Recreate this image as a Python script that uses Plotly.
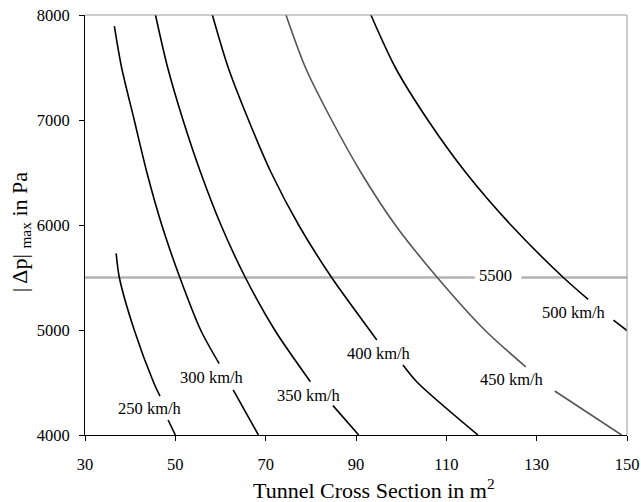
import plotly.graph_objects as go

# ---- data (x = cross section m^2, y = |dp|max Pa); None = gap at label
speed_labels = ["250 km/h", "300 km/h", "350 km/h", "400 km/h", "450 km/h", "500 km/h"]

x_250 = [36.9, 37.6, 40.9, 45.2, 46.6, None, 48.4, 50.0]
y_250 = [5730, 5500, 5000, 4500, 4371, None, 4143, 4000]

x_300 = [36.5, 38.1, 40.9, 43.7, 47.0, 51.0, 55.6, 59.7, None, 62.8, 68.4]
y_300 = [7895, 7500, 7000, 6500, 6000, 5500, 5000, 4680, None, 4430, 4000]

x_350 = [45.6, 48.3, 51.7, 55.6, 60.1, 65.5, 72.0, 79.9, None, 84.9, 90.6]
y_350 = [8000, 7500, 7000, 6500, 6000, 5500, 5000, 4508, None, 4280, 4000]

x_400 = [58.2, 61.7, 66.2, 71.2, 77.3, 84.6, 93.0, 94.6, None, 100.4, 103.6, 117.0]
y_400 = [8000, 7500, 7000, 6500, 6000, 5500, 5000, 4905, None, 4667, 4500, 4000]

x_450 = [74.5, 78.8, 84.6, 91.1, 98.7, 108.0, 118.5, 127.6, None, 134.0, 148.8]
y_450 = [8000, 7500, 7000, 6500, 6000, 5500, 5000, 4648, None, 4419, 4000]

x_500 = [93.3, 98.7, 105.9, 114.3, 124.3, 135.9, 141.4, None, 147.0, 150.0]
y_500 = [8000, 7500, 7000, 6500, 6000, 5500, 5292, None, 5095, 4995]

# curve label positions
label_x = [44.4, 58.2, 79.7, 95.1, 124.6, 138.3]
label_y = [4257, 4543, 4381, 4781, 4524, 5162]

# limit line
limit_x = [30, 116.3, None, 126.6, 150]
limit_y = [5500, 5500, None, 5500, 5500]
limit_text = "5500"
limit_label_x = 120.8
limit_label_y = 5500

x_ticks = [30, 50, 70, 90, 110, 130, 150]
y_ticks = [4000, 5000, 6000, 7000, 8000]

FONT = "Liberation Serif, 'Times New Roman', Times, serif"

curves = [(x_250, y_250), (x_300, y_300), (x_350, y_350),
          (x_400, y_400), (x_450, y_450), (x_500, y_500)]
colors = ["#000000", "#000000", "#000000", "#000000", "#555555", "#000000"]

fig = go.Figure()

fig.add_trace(go.Scatter(x=limit_x, y=limit_y, mode="lines",
                         line=dict(color="#b3b3b3", width=2.6),
                         hoverinfo="skip", showlegend=False))

for (cx, cy), name, col in zip(curves, speed_labels, colors):
    fig.add_trace(go.Scatter(x=cx, y=cy, mode="lines", name=name,
                             line=dict(color=col, width=1.6, shape="spline", smoothing=0.8),
                             connectgaps=False, showlegend=False))

annotations = []
for name, lx, ly in zip(speed_labels, label_x, label_y):
    annotations.append(dict(x=lx, y=ly, xref="x", yref="y", text=name,
                            showarrow=False, xanchor="center", yanchor="middle",
                            font=dict(family=FONT, size=16.5, color="black")))
annotations.append(dict(x=limit_label_x, y=limit_label_y, xref="x", yref="y",
                        text=limit_text, showarrow=False, xanchor="center",
                        yanchor="middle", yshift=2,
                        font=dict(family=FONT, size=16.5, color="black")))
# axis titles
annotations.append(dict(x=94, y=0, xref="x", yref="paper",
                        text="Tunnel Cross Section in m<sup>2</sup>",
                        showarrow=False, xanchor="center", yanchor="middle",
                        yshift=-54, font=dict(family=FONT, size=22, color="black")))
annotations.append(dict(x=0, y=5930, xref="paper", yref="y",
                        text="| Δp| <sub>max</sub> in Pa", textangle=-90,
                        showarrow=False, xanchor="center", yanchor="middle",
                        xshift=-64, font=dict(family=FONT, size=22, color="black")))

fig.update_layout(
    width=641, height=502, autosize=False,
    margin=dict(l=85, r=14, t=15, b=67, autoexpand=False),
    paper_bgcolor="white", plot_bgcolor="white",
    font=dict(family=FONT, size=16.5, color="black"),
    annotations=annotations,
    shapes=[
        dict(type="line", xref="paper", yref="paper", x0=0, x1=1, y0=1, y1=1,
             line=dict(color="#9a9a9a", width=1)),
        dict(type="line", xref="paper", yref="paper", x0=1, x1=1, y0=0, y1=1,
             line=dict(color="#9a9a9a", width=1)),
    ],
    xaxis=dict(range=[30, 150], tickvals=x_ticks, ticks="outside", ticklen=5,
               tickcolor="black", showline=True, linecolor="black", linewidth=1,
               showgrid=False, zeroline=False, ticklabelstandoff=9, automargin=False,
               tickfont=dict(family=FONT, size=16.5, color="black")),
    yaxis=dict(range=[4000, 8000], tickvals=y_ticks, ticks="outside", ticklen=5,
               tickcolor="black", showline=True, linecolor="black", linewidth=1,
               showgrid=False, zeroline=False, ticklabelstandoff=6, automargin=False,
               tickfont=dict(family=FONT, size=16.5, color="black")),
)

fig.write_html("out.html", config={"displayModeBar": False, "responsive": False},
               post_script="document.body.style.margin='0';document.body.style.padding='0';document.body.style.overflow='hidden';")
